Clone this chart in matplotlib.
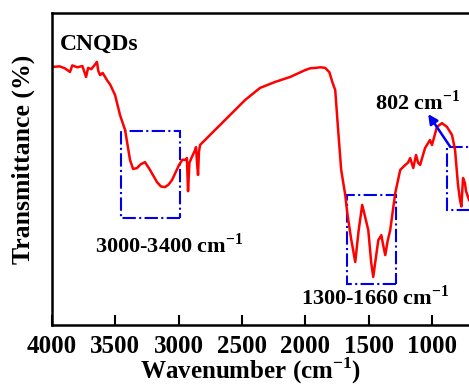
import numpy as np
import matplotlib
matplotlib.use("Agg")
import matplotlib.pyplot as plt
from matplotlib.patches import Rectangle

plt.rcParams['font.family'] = ['Liberation Serif', 'DejaVu Serif']
plt.rcParams['font.weight'] = 'bold'
plt.rcParams['mathtext.fontset'] = 'custom'
plt.rcParams['mathtext.rm'] = 'Liberation Serif:bold'
plt.rcParams['mathtext.bf'] = 'Liberation Serif:bold'

# FTIR spectrum of CNQDs
wavenumber = [4000, 3940, 3900, 3858, 3840, 3800, 3760, 3731, 3715, 3690, 3660, 3645,
              3635, 3621, 3600, 3566, 3540, 3502, 3463, 3423, 3384, 3360, 3329, 3300,
              3266, 3226, 3171, 3140, 3108, 3080, 3052, 2997, 2970, 2949, 2935, 2926,
              2915, 2894, 2870, 2863, 2855, 2847, 2840, 2831, 2792, 2713, 2594, 2476,
              2357, 2239, 2120, 2001, 1960, 1922, 1880, 1843, 1810, 1788, 1764, 1741,
              1717, 1685, 1669, 1640, 1606, 1580, 1551, 1530, 1503, 1480, 1464, 1445,
              1424, 1400, 1385, 1369, 1350, 1330, 1290, 1251, 1211, 1190, 1172, 1148,
              1126, 1110, 1094, 1055, 1016, 1000, 961, 921, 882, 842, 818, 795, 779,
              768, 755, 740, 732, 708]
transmittance = [82.7, 82.9, 82.3, 81.1, 83.2, 82.6, 83.0, 79.5, 82.4, 82.0, 83.5, 84.3,
                 81.5, 80.1, 80.8, 78.5, 77.0, 73.7, 67.3, 62.5, 52.9, 50.0, 50.3, 51.5,
                 52.2, 49.7, 45.8, 44.4, 44.2, 45.0, 46.5, 51.3, 53.0, 52.9, 53.5, 42.9,
                 52.0, 54.0, 56.1, 57.0, 52.0, 48.1, 55.5, 57.7, 59.3, 62.5, 67.3, 72.1,
                 76.0, 77.9, 79.5, 81.7, 82.3, 82.4, 82.6, 82.4, 81.0, 78.0, 75.3, 62.5,
                 49.7, 41.7, 35.9, 28.0, 20.2, 30.0, 38.5, 35.0, 30.4, 20.0, 15.4, 21.0,
                 27.2, 28.8, 25.5, 22.4, 27.0, 30.4, 42.3, 49.7, 51.3, 52.0, 53.5, 50.3,
                 54.5, 52.0, 51.3, 56.7, 59.3, 57.7, 63.5, 64.7, 63.5, 60.9, 56.1, 45.0,
                 40.1, 38.0, 47.1, 45.5, 43.0, 40.1]

# highlighted regions: (high wavenumber, low wavenumber, bottom, top)
box_w_hi = [3455, 1669, 882]
box_w_lo = [2990, 1284, 650]
box_t_lo = [34.3, 13.1, 36.9]
box_t_hi = [62.2, 41.7, 57.1]

xticks = [4000, 3500, 3000, 2500, 2000, 1500, 1000]

fig = plt.figure(figsize=(4.69, 3.87), dpi=100)
ax = fig.add_axes([52 / 469, 62 / 387, (508 - 52) / 469, (325 - 13) / 387])

ax.plot(wavenumber, transmittance, color='#ff0000', linewidth=1.8)

for hi, lo, b, t in zip(box_w_hi, box_w_lo, box_t_lo, box_t_hi):
    ax.add_patch(Rectangle((lo, b), hi - lo, t - b, fill=False, edgecolor='#0000ee',
                           linestyle='-.', linewidth=1.5))

ax.set_xlim(4000, 400)
ax.set_ylim(0, 100)
ax.set_xticks(xticks)
ax.set_xticklabels([str(v) for v in xticks], fontsize=18, fontweight='bold')
ax.set_yticks([])
ax.tick_params(axis='x', direction='in', length=7, width=1.5, pad=7)
for s in ax.spines.values():
    s.set_linewidth(1.8)

ax.set_xlabel('Wavenumber (cm$^{-1}$)', fontsize=18, fontweight='bold')
ax.xaxis.set_label_coords(0.436, -0.099)
ax.set_ylabel('Transmittance (%)', fontsize=18.5, fontweight='bold')
ax.yaxis.set_label_coords(-0.038, 0.53)

ax.text(3940, 90.0, 'CNQDs', fontsize=17, fontweight='bold', ha='left', va='center')
ax.text(3076, 25.6, '3000-3400 cm$^{-1}$', fontsize=16, fontweight='bold',
        ha='center', va='center')
ax.text(1450, 8.7, '1300-1660 cm$^{-1}$', fontsize=16, fontweight='bold',
        ha='center', va='center')
ax.text(1110, 71.2, '802 cm$^{-1}$', fontsize=16, fontweight='bold',
        ha='center', va='center')
ax.annotate('', xy=(1030, 67.6), xytext=(856, 57.1),
            arrowprops=dict(arrowstyle='-|>', color='#0000ee', lw=1.8,
                            mutation_scale=14, shrinkA=0, shrinkB=0))

fig.savefig('out.png', dpi=100)
